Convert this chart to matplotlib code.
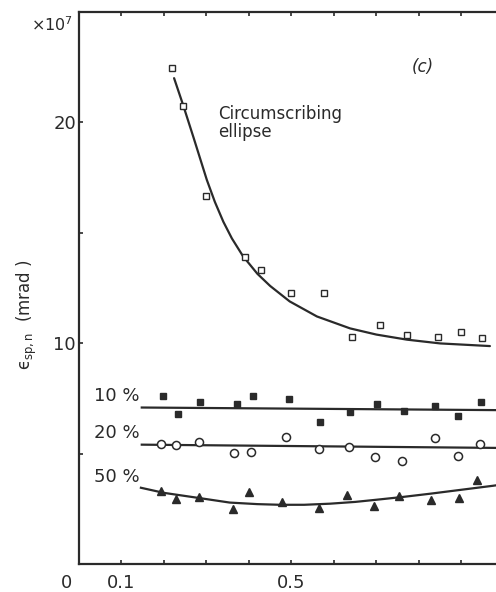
import matplotlib
matplotlib.use('Agg')
import matplotlib.pyplot as plt

# circumscribing ellipse (open squares) and its fitted curve
ell_x = [0.219, 0.245, 0.299, 0.391, 0.428, 0.499, 0.576, 0.642, 0.708, 0.772, 0.845, 0.899, 0.948]
ell_y = [22.47, 20.75, 16.67, 13.91, 13.33, 12.29, 12.29, 10.29, 10.84, 10.38, 10.29, 10.52, 10.25]
ell_fit_x = [0.224, 0.245, 0.270, 0.301, 0.320, 0.340, 0.360, 0.386, 0.420, 0.450, 0.496,
             0.560, 0.638, 0.700, 0.772, 0.850, 0.967]
ell_fit_y = [22.0, 20.8, 19.3, 17.4, 16.4, 15.5, 14.75, 13.95, 13.15, 12.6, 11.9,
             11.22, 10.68, 10.40, 10.17, 10.0, 9.88]

# 10 % (filled squares)
p10_x = [0.198, 0.233, 0.285, 0.372, 0.409, 0.494, 0.567, 0.638, 0.701, 0.765, 0.838, 0.892, 0.946]
p10_y = [7.62, 6.81, 7.35, 7.26, 7.62, 7.49, 6.45, 6.90, 7.26, 6.95, 7.17, 6.72, 7.35]
p10_fit_x = [0.148, 1.0]
p10_fit_y = [7.10, 6.98]

# 20 % (open circles)
p20_x = [0.193, 0.228, 0.282, 0.365, 0.405, 0.487, 0.565, 0.635, 0.696, 0.760, 0.838, 0.892, 0.944]
p20_y = [5.45, 5.41, 5.54, 5.05, 5.09, 5.77, 5.23, 5.32, 4.86, 4.68, 5.72, 4.91, 5.45]
p20_fit_x = [0.148, 1.0]
p20_fit_y = [5.42, 5.27]

# 50 % (filled triangles)
p50_x = [0.193, 0.228, 0.282, 0.362, 0.400, 0.478, 0.565, 0.631, 0.694, 0.753, 0.828, 0.894, 0.936]
p50_y = [3.33, 2.96, 3.05, 2.51, 3.28, 2.83, 2.56, 3.14, 2.65, 3.10, 2.92, 3.01, 3.82]
p50_fit_x = [0.146, 0.200, 0.278, 0.355, 0.420, 0.473, 0.530, 0.591, 0.650, 0.701, 0.760, 0.826, 0.900, 0.974, 1.0]
p50_fit_y = [3.47, 3.24, 3.02, 2.80, 2.73, 2.70, 2.70, 2.75, 2.83, 2.93, 3.05, 3.20, 3.38, 3.56, 3.63]

x_ticks = [0.1, 0.2, 0.3, 0.4, 0.5, 0.6, 0.7, 0.8, 0.9]
x_labels = ['0.1', '', '', '', '0.5', '', '', '', '']
y_ticks = [5, 10, 15, 20]
y_labels = ['', '10', '', '20']

plt.rcParams['font.family'] = ['DejaVu Sans']
lc = '#2a2a2a'

fig = plt.figure(figsize=(4.96, 5.92), dpi=100)
ax = fig.add_axes([0.159, 0.0465, 0.857, 0.9335])

ax.plot(ell_fit_x, ell_fit_y, color=lc, lw=1.6, solid_capstyle='round')
ax.plot(ell_x, ell_y, 's', ms=4.2, mfc='white', mec=lc, mew=1.0)

ax.plot(p10_fit_x, p10_fit_y, color=lc, lw=1.6)
ax.plot(p10_x, p10_y, 's', ms=4.8, color=lc)

ax.plot(p20_fit_x, p20_fit_y, color=lc, lw=1.6)
ax.plot(p20_x, p20_y, 'o', ms=5.8, mfc='white', mec=lc, mew=1.1)

ax.plot(p50_fit_x, p50_fit_y, color=lc, lw=1.6)
ax.plot(p50_x, p50_y, '^', ms=5.2, color=lc)

ax.set_xlim(0, 1.0)
ax.set_ylim(0, 25)
ax.set_xticks(x_ticks)
ax.set_xticklabels(x_labels)
ax.set_yticks(y_ticks)
ax.set_yticklabels(y_labels)
ax.tick_params(direction='in', length=3, width=1.2, colors=lc, labelsize=13,
               top=True, pad=2)
ax.tick_params(axis='x', pad=7)
for s in ax.spines.values():
    s.set_linewidth(1.6)
    s.set_color(lc)

# origin label sits left of the frame corner
ax.annotate('0', xy=(0, 0), xytext=(-9, -13), textcoords='offset points',
            ha='center', va='center', fontsize=13, color=lc, annotation_clip=False)
ax.annotate(r'$\times10^7$', xy=(0, 25), xytext=(-19, -9), textcoords='offset points',
            ha='center', va='center', fontsize=11.5, color=lc, annotation_clip=False)

ax.text(-0.122, 11.3, 'ϵ' + r'$_{\rm sp,n}$' + '  (mrad )', rotation=90, ha='center',
        va='center', fontsize=12, color=lc, clip_on=False)

ax.text(0.327, 20.8, 'Circumscribing\nellipse', ha='left', va='top', fontsize=12,
        linespacing=1.0, color=lc)
ax.text(0.81, 22.5, '(c)', ha='center', va='center', fontsize=12, style='italic', color=lc)
ax.text(0.143, 7.63, '10 %', ha='right', va='center', fontsize=13, color=lc)
ax.text(0.143, 5.95, '20 %', ha='right', va='center', fontsize=13, color=lc)
ax.text(0.143, 3.96, '50 %', ha='right', va='center', fontsize=13, color=lc)

fig.savefig('out.png', dpi=100)
